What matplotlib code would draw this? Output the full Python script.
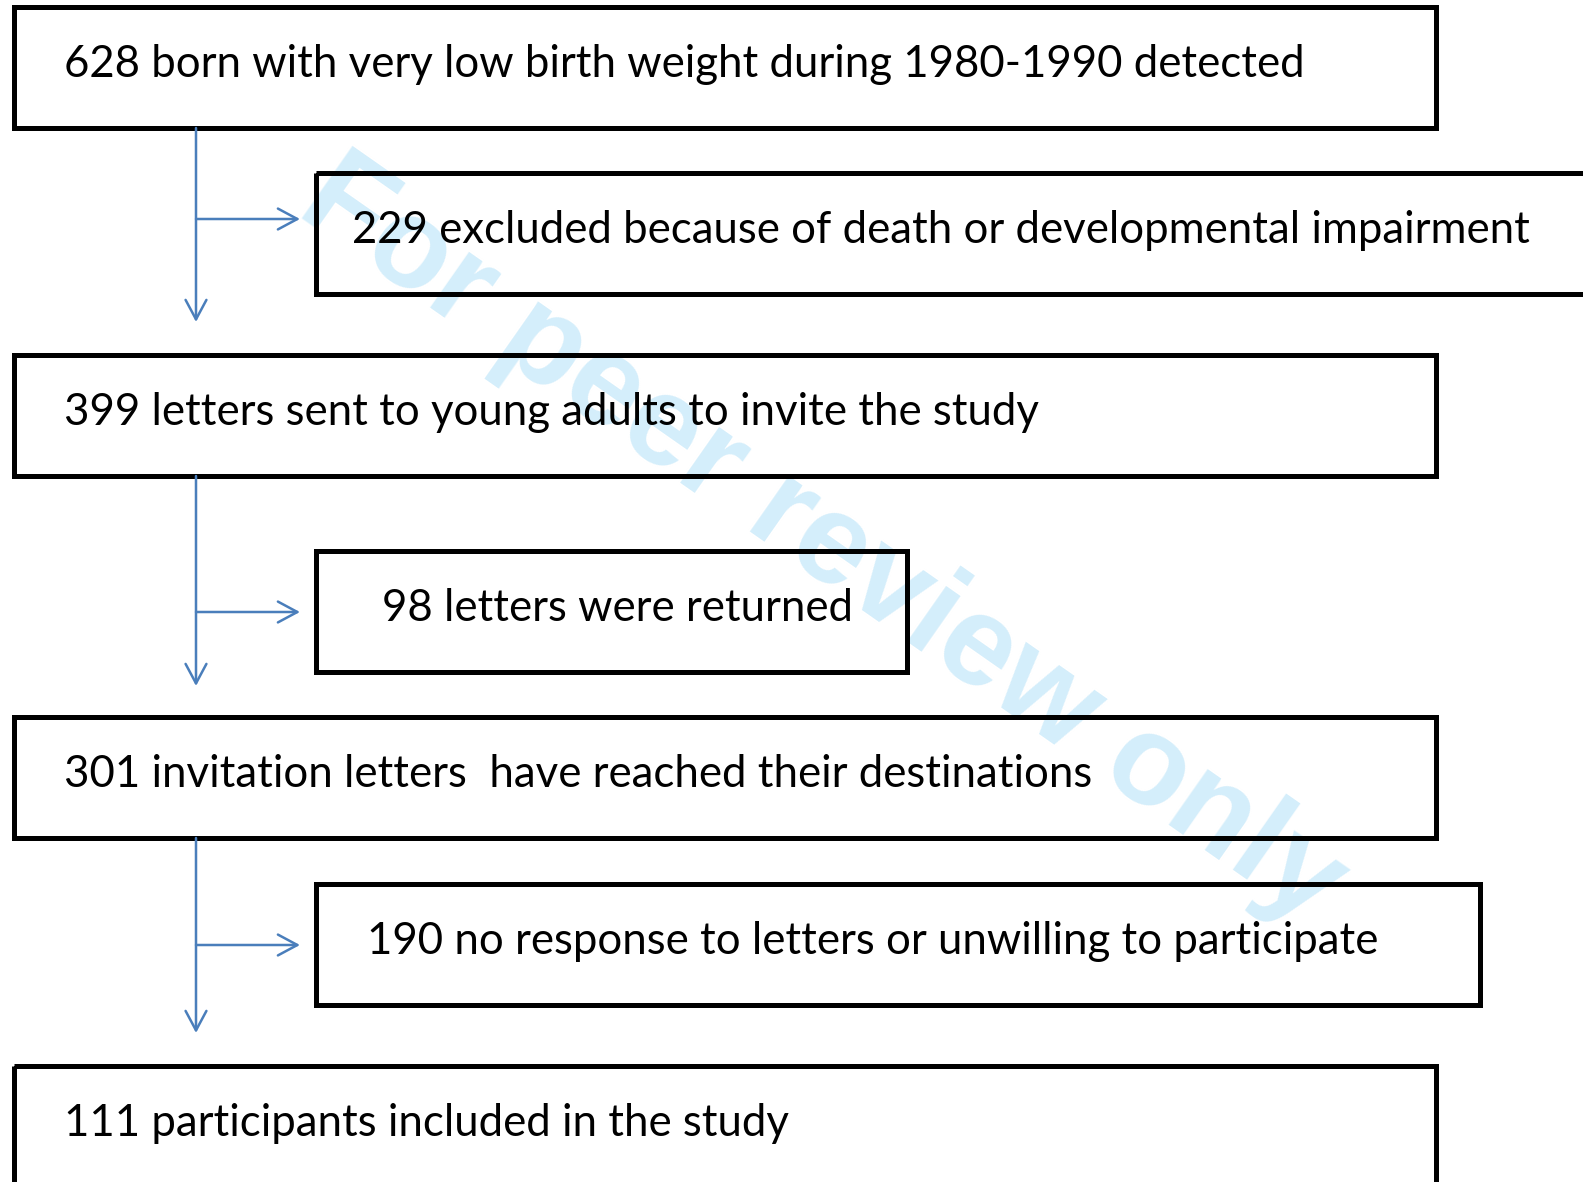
import matplotlib.pyplot as plt
from matplotlib.patches import Rectangle, FancyArrowPatch

# flowchart content
main_labels = [
    "628 born with very low birth weight during 1980-1990 detected",
    "399 letters sent to young adults to invite the study",
    "301 invitation letters  have reached their destinations",
    "111 participants included in the study",
]
side_labels = [
    "229 excluded because of death or developmental impairment",
    "98 letters were returned",
    "190 no response to letters or unwilling to participate",
]

# layout in pixels (y downwards)
W, H = 1583, 1182
main_x = (14, 1436)
main_tops = [7, 355, 717, 1066]
box_h = 121
side_x0 = 316
side_x1 = [1640, 907, 1480]
side_tops = [173, 551, 884]
side_text_x = [352, 382, 367]
main_text_x = 64
stem_x = 196
arrow_tips = [322, 686, 1033]
branch_y = [219, 612, 945]
branch_tip = 300

blue = "#4a7ebb"
font = "Lato"
fs = 31.5

fig = plt.figure(figsize=(W / 100, H / 100), dpi=100)
ax = fig.add_axes([0, 0, 1, 1])
ax.set_xlim(0, W)
ax.set_ylim(H, 0)
ax.axis("off")

# watermark behind everything
ax.text(822, 542, "For peer review only", rotation=-35, rotation_mode="anchor",
        ha="center", va="center", fontsize=92, fontweight="bold",
        family="Liberation Sans", color="#d4eefb", zorder=0)

for i, lab in enumerate(main_labels):
    top = main_tops[i]
    ax.add_patch(Rectangle((main_x[0], top), main_x[1] - main_x[0], box_h,
                           fill=False, ec="black", lw=3.6, zorder=2))
    ax.text(main_text_x, top + 70, lab, fontsize=fs, family=font,
            va="baseline", ha="left", zorder=3)

for i, lab in enumerate(side_labels):
    top = side_tops[i]
    ax.add_patch(Rectangle((side_x0, top), side_x1[i] - side_x0, box_h,
                           fill=False, ec="black", lw=3.6, zorder=2))
    ax.text(side_text_x[i], top + 70, lab, fontsize=fs, family=font,
            va="baseline", ha="left", zorder=3)

    # down arrow and side branch
    start = main_tops[i] + box_h
    ax.add_patch(FancyArrowPatch((stem_x, start), (stem_x, arrow_tips[i]),
                                 arrowstyle="->,head_length=1.4,head_width=0.75",
                                 mutation_scale=10, color=blue, lw=1.8,
                                 shrinkA=0, shrinkB=0, zorder=2))
    ax.add_patch(FancyArrowPatch((stem_x, branch_y[i]), (branch_tip, branch_y[i]),
                                 arrowstyle="->,head_length=1.4,head_width=0.75",
                                 mutation_scale=10, color=blue, lw=1.8,
                                 shrinkA=0, shrinkB=0, zorder=2))

fig.savefig("out.png", dpi=100)
